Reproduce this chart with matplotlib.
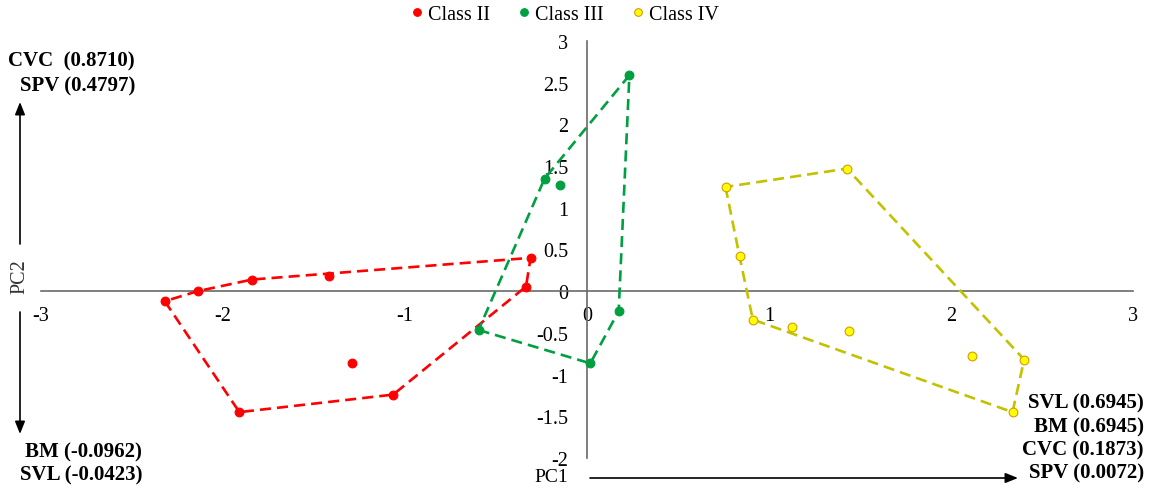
import matplotlib
matplotlib.use("Agg")
import matplotlib.pyplot as plt
from matplotlib.lines import Line2D
from matplotlib.patches import FancyArrowPatch

plt.rcParams['font.family'] = ['Liberation Serif', 'DejaVu Serif']

# PCA scores (PC1, PC2) per class
class_names = ["Class II", "Class III", "Class IV"]

class2_pc1 = [-0.31, -0.335, -2.32, -2.14, -1.84, -1.42, -1.29, -1.065, -1.91]
class2_pc2 = [0.40, 0.056, -0.12, 0.00, 0.14, 0.18, -0.86, -1.24, -1.45]

class3_pc1 = [0.233, -0.233, -0.149, -0.596, 0.018, 0.174]
class3_pc2 = [2.59, 1.35, 1.27, -0.465, -0.865, -0.24]

class4_pc1 = [0.761, 1.428, 0.838, 0.911, 1.128, 1.437, 2.118, 2.402, 2.338]
class4_pc2 = [1.25, 1.47, 0.42, -0.34, -0.43, -0.48, -0.78, -0.82, -1.45]

x_ticks = [-3, -2, -1, 0, 1, 2, 3]
x_tick_labels = ["-3", "-2", "-1", "0", "1", "2", "3"]
y_ticks = [3, 2.5, 2, 1.5, 1, 0.5, 0, -0.5, -1, -1.5, -2]
y_tick_labels = ["3", "2.5", "2", "1.5", "1", "0.5", "0", "-0.5", "-1", "-1.5", "-2"]

# variable loadings shown along the component arrows
pc2_pos_labels = ["CVC  (0.8710)", "SPV (0.4797)"]
pc2_neg_labels = ["BM (-0.0962)", "SVL (-0.0423)"]
pc1_pos_labels = ["SVL (0.6945)", "BM (0.6945)", "CVC (0.1873)", "SPV (0.0072)"]


def convex_hull(xs, ys):
    pts = sorted(set(zip(xs, ys)))

    def cross(o, a, b):
        return (a[0] - o[0]) * (b[1] - o[1]) - (a[1] - o[1]) * (b[0] - o[0])

    lower = []
    for p in pts:
        while len(lower) >= 2 and cross(lower[-2], lower[-1], p) < 0:
            lower.pop()
        lower.append(p)
    upper = []
    for p in reversed(pts):
        while len(upper) >= 2 and cross(upper[-2], upper[-1], p) < 0:
            upper.pop()
        upper.append(p)
    hull = lower[:-1] + upper[:-1]
    hull.append(hull[0])
    return [p[0] for p in hull], [p[1] for p in hull]


W, H = 1153, 489
fig = plt.figure(figsize=(W / 100, H / 100), dpi=100)


def fx(px):
    return px / W


def fy(py):
    return 1 - py / H


ax = fig.add_axes([fx(41), fy(459), fx(1133) - fx(41), fy(42) - fy(459)])

series = [
    (class2_pc1, class2_pc2, dict(line="#FF0000", face="#FF0000", edge="#FF0000")),
    (class3_pc1, class3_pc2, dict(line="#00A040", face="#00A040", edge="#00A040")),
    (class4_pc1, class4_pc2, dict(line="#C2C200", face="#FFFF00", edge="#D99A00")),
]

for xs, ys, st in series:
    hx, hy = convex_hull(xs, ys)
    ax.plot(hx, hy, color=st["line"], lw=1.9, dashes=(4.2, 2.3), zorder=3)
for xs, ys, st in series:
    ax.plot(xs, ys, linestyle="none", marker="o", ms=6.3,
            markerfacecolor=st["face"], markeredgecolor=st["edge"],
            markeredgewidth=0.8, zorder=4)

ax.set_xlim(-3, 3)
ax.set_ylim(-2, 3)
ax.set_xticks(x_ticks)
ax.set_xticklabels(x_tick_labels)
ax.set_yticks(y_ticks)
ax.set_yticklabels(y_tick_labels)
ax.tick_params(axis="both", length=0, labelsize=14.5, colors="black")
ax.tick_params(axis="x", pad=11)
ax.tick_params(axis="y", pad=13.5)

for side in ("top", "right"):
    ax.spines[side].set_visible(False)
for side in ("left", "bottom"):
    ax.spines[side].set_position(("data", 0))
    ax.spines[side].set_color("#6a6a6a")
    ax.spines[side].set_linewidth(1.2)
ax.patch.set_visible(False)

# legend
handles = [Line2D([], [], linestyle="none", marker="o", ms=5.5,
                  markerfacecolor=st["face"], markeredgecolor=st["edge"],
                  markeredgewidth=0.8) for _, _, st in series]
fig.legend(handles, class_names, loc="center", bbox_to_anchor=(fx(564), fy(15)),
           ncol=3, frameon=False, fontsize=14.5, handletextpad=0.15,
           columnspacing=1.3, handlelength=0.8, borderpad=0)


def arrow(p0, p1):
    fig.add_artist(FancyArrowPatch((fx(p0[0]), fy(p0[1])), (fx(p1[0]), fy(p1[1])),
                                   transform=fig.transFigure,
                                   arrowstyle="-|>,head_length=0.75,head_width=0.3",
                                   mutation_scale=10, lw=1.2, color="black",
                                   shrinkA=0, shrinkB=0))


# PC2 arrow (split around its label) and PC1 arrow
arrow((20, 245), (20, 103))
arrow((20, 313), (20, 435))
arrow((590, 479), (1018, 479))

fig.text(fx(20), fy(277), "PC2", rotation=90, ha="center", va="center",
         fontsize=14.5, color="#333333")
fig.text(fx(551), fy(478), "PC1", ha="center", va="center", fontsize=14,
         color="black")

for txt, py in zip(pc2_pos_labels, [61, 86]):
    fig.text(fx(135), fy(py), txt, ha="right", va="center", fontsize=15,
             fontweight="bold")
for txt, py in zip(pc2_neg_labels, [452, 475]):
    fig.text(fx(142), fy(py), txt, ha="right", va="center", fontsize=15,
             fontweight="bold")
for txt, py in zip(pc1_pos_labels, [403, 427, 450, 473]):
    fig.text(fx(1144), fy(py), txt, ha="right", va="center", fontsize=15,
             fontweight="bold")

fig.savefig("out.png", dpi=100)
